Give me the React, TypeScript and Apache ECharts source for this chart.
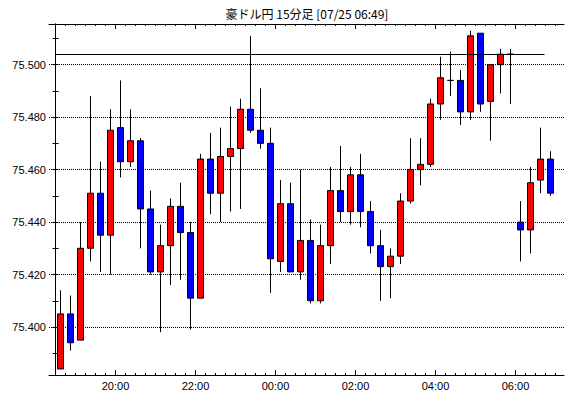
import { useEffect, useRef } from 'react';
import * as echarts from 'echarts';

const chartTitle = '豪ドル円 15分足 [07/25 06:49]';

// 15-minute slots starting 18:30 (slot k covers slotTimes[k] .. slotTimes[k+1])
const slotTimes: string[] = (() => {
  const out: string[] = [];
  for (let i = 0; i < 51; i++) {
    const m = (18 * 60 + 30 + i * 15) % (24 * 60);
    const hh = String(Math.floor(m / 60)).padStart(2, '0');
    const mm = String(m % 60).padStart(2, '0');
    out.push(`${hh}:${mm}`);
  }
  return out;
})();

const opens = [
  75.384, 75.405, 75.395, 75.430, 75.451, 75.435, 75.476, 75.463, 75.471, 75.445,
  75.421, 75.431, 75.446, 75.436, 75.411, 75.464, 75.451, 75.465, 75.468, 75.483,
  75.475, 75.470, 75.425, 75.447, 75.421, 75.433, 75.410, 75.431, 75.452, 75.444,
  75.458, 75.444, 75.431, 75.423, 75.427, 75.448, 75.460, 75.462, 75.485, 75.494,
  75.494, 75.482, 75.512, 75.486, 75.500, 75.504, 75.440, 75.437, 75.456, 75.464,
];
const closes = [
  75.405, 75.394, 75.430, 75.451, 75.435, 75.475, 75.463, 75.471, 75.445, 75.421,
  75.431, 75.446, 75.436, 75.411, 75.464, 75.451, 75.465, 75.468, 75.483, 75.475,
  75.470, 75.426, 75.447, 75.421, 75.433, 75.410, 75.431, 75.452, 75.444, 75.458,
  75.444, 75.431, 75.423, 75.427, 75.448, 75.460, 75.462, 75.485, 75.495, 75.494,
  75.482, 75.511, 75.485, 75.500, 75.504, 75.504, 75.437, 75.455, 75.464, 75.451,
];
const lows = [
  75.384, 75.391, 75.395, 75.425, 75.421, 75.420, 75.457, 75.461, 75.430, 75.420,
  75.398, 75.416, 75.418, 75.399, 75.411, 75.443, 75.440, 75.444, 75.445, 75.474,
  75.468, 75.413, 75.421, 75.421, 75.418, 75.409, 75.409, 75.424, 75.440, 75.439,
  75.438, 75.428, 75.410, 75.411, 75.424, 75.447, 75.454, 75.461, 75.479, 75.488,
  75.477, 75.479, 75.482, 75.471, 75.489, 75.485, 75.425, 75.428, 75.451, 75.450,
];
const highs = [
  75.414, 75.412, 75.440, 75.488, 75.463, 75.483, 75.494, 75.483, 75.472, 75.452,
  75.439, 75.449, 75.455, 75.440, 75.466, 75.474, 75.476, 75.484, 75.487, 75.511,
  75.491, 75.476, 75.456, 75.455, 75.460, 75.441, 75.439, 75.461, 75.469, 75.461,
  75.466, 75.448, 75.437, 75.430, 75.451, 75.472, 75.472, 75.487, 75.503, 75.505,
  75.498, 75.513, 75.512, 75.500, 75.506, 75.506, 75.448, 75.461, 75.476, 75.467,
];

const xTickLabels = ['20:00', '22:00', '00:00', '02:00', '04:00', '06:00'];
const yTickLabels = [75.4, 75.42, 75.44, 75.46, 75.48, 75.5];
const yMinorTicks = [75.39, 75.4, 75.41, 75.42, 75.43, 75.44, 75.45, 75.46, 75.47, 75.48, 75.49, 75.5, 75.51];
const refLineValue = 75.504;

// layout constants
const X_MIN = -0.65;
const X_MAX = 50.85;
const Y_MIN = 75.3817;
const Y_MAX = 75.5155;
const REF_START = 0;
const REF_END = 48.9;

const FONT = 'Liberation Sans';

export default function App() {
  const ref = useRef<HTMLDivElement>(null);
  useEffect(() => {
    if (!ref.current) return;
    const chart = echarts.init(ref.current, undefined, { renderer: 'svg' });

    const allSlots = slotTimes.map((_, i) => i);
    const labelSlots = xTickLabels.map((l) => slotTimes.indexOf(l));
    const candleData = opens.map((o, i) => [i + 0.5, o, closes[i], lows[i], highs[i]]);

    const black = { color: '#000', width: 1 };
    const baseX = {
      type: 'value' as const,
      min: X_MIN,
      max: X_MAX,
      splitLine: { show: false },
      axisLabel: { show: false },
    };
    const baseY = {
      type: 'value' as const,
      min: Y_MIN,
      max: Y_MAX,
      splitLine: { show: false },
      axisLabel: { show: false },
    };

    chart.setOption({
      animation: false,
      backgroundColor: '#fff',
      grid: { left: 49, right: 6, top: 24, bottom: 23, containLabel: false },
      graphic: [
        {
          type: 'text',
          x: 307,
          y: 13,
          style: {
            text: chartTitle,
            fill: '#000',
            font: `12px "Noto Sans CJK JP"`,
            textAlign: 'center',
            textVerticalAlign: 'middle',
          },
        },
      ],
      xAxis: [
        {
          ...baseX,
          position: 'bottom',
          axisLine: { show: true, lineStyle: black },
          axisTick: { show: true, inside: true, length: 2, customValues: allSlots, lineStyle: black },
        },
        {
          ...baseX,
          position: 'bottom',
          axisLine: { show: false },
          axisTick: { show: true, inside: true, length: 5, customValues: labelSlots, lineStyle: black },
          axisLabel: {
            show: true,
            customValues: labelSlots,
            formatter: (v: number) => slotTimes[Math.round(v)],
            margin: 5,
            color: '#000',
            fontSize: 11,
            fontFamily: FONT,
          },
        },
        {
          ...baseX,
          position: 'top',
          axisLine: { show: true, lineStyle: black },
          axisTick: { show: true, inside: true, length: 2, customValues: allSlots, lineStyle: black },
        },
        {
          ...baseX,
          position: 'top',
          axisLine: { show: false },
          axisTick: { show: true, inside: true, length: 5, customValues: labelSlots, lineStyle: black },
        },
      ],
      yAxis: [
        {
          ...baseY,
          position: 'left',
          splitNumber: 7,
          axisLine: { show: true, lineStyle: black },
          axisTick: { show: true, inside: false, length: 3, customValues: yTickLabels, lineStyle: black },
          axisLabel: {
            show: true,
            customValues: yTickLabels,
            formatter: (v: number) => v.toFixed(3),
            margin: 3,
            color: '#000',
            fontSize: 11,
            fontFamily: FONT,
          },
          splitLine: { show: true, lineStyle: { color: '#000', width: 1, type: [1, 1] } },
        },
        {
          ...baseY,
          position: 'left',
          axisLine: { show: false },
          axisTick: { show: true, inside: true, length: 3, customValues: yMinorTicks, lineStyle: black },
        },
        {
          ...baseY,
          position: 'right',
          axisLine: { show: true, lineStyle: black },
          axisTick: { show: true, inside: true, length: 3, customValues: yMinorTicks, lineStyle: black },
        },
      ],
      series: [
        {
          type: 'candlestick',
          xAxisIndex: 0,
          yAxisIndex: 0,
          barWidth: 7,
          data: candleData,
          itemStyle: {
            color: '#ff0000',
            color0: '#0000ff',
            borderColor: '#000',
            borderColor0: '#000',
            borderColorDoji: '#000',
            borderWidth: 1,
          },
          emphasis: { disabled: true },
          markLine: {
            silent: true,
            symbol: ['none', 'none'],
            label: { show: false },
            emphasis: { disabled: true },
            lineStyle: { color: '#000', width: 1, type: 'solid' },
            data: [[{ coord: [REF_START, refLineValue] }, { coord: [REF_END, refLineValue] }]],
          },
        },
      ],
    });
    return () => chart.dispose();
  }, []);

  return (
    <div
      ref={ref}
      style={{ position: 'fixed', left: 0, top: 0, width: 570, height: 398, background: '#fff' }}
    />
  );
}
